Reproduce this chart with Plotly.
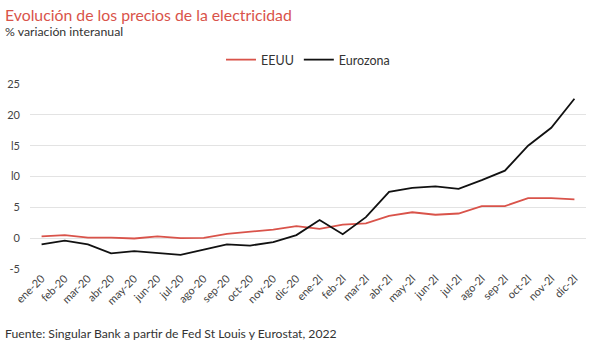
import plotly.graph_objects as go

months = ["ene-20", "feb-20", "mar-20", "abr-20", "may-20", "jun-20", "jul-20", "ago-20",
          "sep-20", "oct-20", "nov-20", "dic-20", "ene-21", "feb-21", "mar-21", "abr-21",
          "may-21", "jun-21", "jul-21", "ago-21", "sep-21", "oct-21", "nov-21", "dic-21"]
tick_labels = [m.replace("1", "l") if m.endswith("21") else m for m in months]

eeuu = [0.3, 0.5, 0.1, 0.1, -0.05, 0.3, 0.0, 0.05, 0.7, 1.1, 1.4, 1.95,
        1.5, 2.2, 2.4, 3.6, 4.2, 3.8, 4.0, 5.2, 5.2, 6.5, 6.5, 6.3]
eurozona = [-1.0, -0.4, -1.0, -2.45, -2.1, -2.35, -2.7, -1.85, -1.0, -1.2, -0.65, 0.5,
            2.95, 0.65, 3.4, 7.5, 8.15, 8.4, 8.0, 9.4, 10.95, 15.0, 17.9, 22.6]

y_ticks = [-5, 0, 5, 10, 15, 20, 25]
y_tick_text = ["-5", "0", "5", "l0", "l5", "20", "25"]

FONT = "Lato, 'Noto Sans', sans-serif"
RED = "#d9534a"
W, H = 600, 345
ML, MR, MT, MB = 30, 14, 84, 76
PW, PH = W - ML - MR, H - MT - MB

fig = go.Figure()
fig.add_trace(go.Scatter(x=months, y=eeuu, mode="lines", name="EEUU",
                         line=dict(color=RED, width=1.8)))
fig.add_trace(go.Scatter(x=months, y=eurozona, mode="lines", name="Eurozona",
                         line=dict(color="#111111", width=1.8)))

fig.update_layout(
    width=W, height=H,
    margin=dict(l=ML, r=MR, t=MT, b=MB, autoexpand=False),
    paper_bgcolor="white", plot_bgcolor="white",
    font=dict(family=FONT, color="#444444", size=11),
    showlegend=True,
    legend=dict(orientation="h", x=0.5, xanchor="center",
                y=1 - 60 / H, yref="container", yanchor="middle",
                font=dict(size=12.5, color="#333333"), traceorder="normal"),
    xaxis=dict(type="category", range=[-0.5, 23.5], tickangle=-45,
               tickmode="array", tickvals=months, ticktext=tick_labels,
               showgrid=False, showline=False, ticks="", zeroline=False,
               automargin=False, tickfont=dict(size=11, color="#444444")),
    yaxis=dict(range=[-5, 25], tickvals=y_ticks, ticktext=y_tick_text,
               showgrid=True, gridcolor="#e3e3e3", gridwidth=1, zeroline=False,
               showline=False, ticks="", ticklabelstandoff=9, automargin=False,
               tickfont=dict(size=11, color="#444444")),
)


def page_text(text, px, py, size, color):
    # place a text at a page pixel position (left edge, vertical middle)
    fig.add_annotation(text=text, x=(px - ML) / PW, y=(H - MB - py) / PH,
                       xref="paper", yref="paper", showarrow=False,
                       xanchor="left", yanchor="middle",
                       font=dict(size=size, color=color, family=FONT))


page_text("Evolución de los precios de la electricidad", 3, 14, 15.8, RED)
page_text("% variación interanual", 3, 31, 12.3, "#333333")
page_text("Fuente: Singular Bank a partir de Fed St Louis y Eurostat, 2022", 3, 333, 12.2, "#333333")

fig.write_html("out.html")
